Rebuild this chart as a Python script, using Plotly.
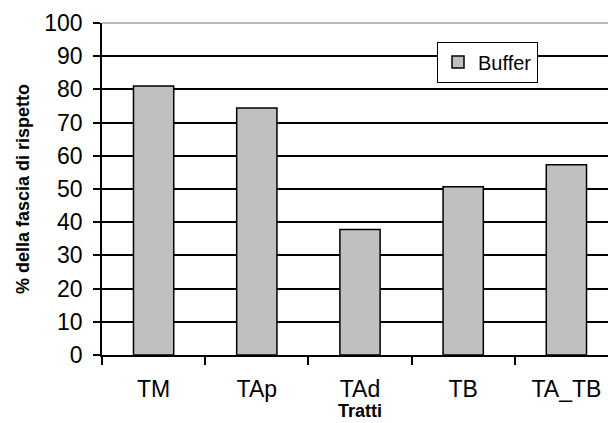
import plotly.graph_objects as go

categories = ["TM", "TAp", "TAd", "TB", "TA_TB"]
buffer_values = [81.0, 74.4, 37.8, 50.7, 57.3]
series_name = "Buffer"
y_title = "% della fascia di rispetto"
x_title = "Tratti"

FONT = "Liberation Sans, Arial, sans-serif"

fig = go.Figure()
fig.add_trace(go.Bar(
    x=categories, y=buffer_values, name=series_name,
    width=0.39,
    marker=dict(color="#c0c0c0", line=dict(color="#000000", width=1.5)),
    showlegend=True,
))

fig.update_layout(
    width=608, height=423,
    margin=dict(l=102, r=0, t=23, b=68, autoexpand=False),
    paper_bgcolor="white", plot_bgcolor="white",
    font=dict(family=FONT, size=23, color="#000000"),
    showlegend=True,
    legend=dict(
        x=(437 - 102) / 506, y=(355 - 41.5) / 332,
        xanchor="left", yanchor="top",
        bgcolor="white", bordercolor="#000000", borderwidth=1,
        font=dict(size=20, family=FONT),
        itemwidth=30,
        tracegroupgap=0,
    ),
    xaxis=dict(
        range=[-0.5, -0.5 + (608 - 102) / 103.2],
        showline=True, linecolor="#000000", linewidth=1.5,
        ticks="outside", tickson="boundaries", ticklen=8, tickcolor="#000000",
        tickwidth=1.5, showgrid=False, zeroline=False,
        ticklabelstandoff=13, automargin=False,
    ),
    yaxis=dict(
        range=[0, 100], dtick=10, tick0=0,
        showline=True, linecolor="#000000", linewidth=1.5,
        ticks="outside", ticklen=7, tickcolor="#000000", tickwidth=1.5,
        showgrid=True, gridcolor="#000000", gridwidth=1.5,
        zeroline=False, automargin=False,
        ticklabelstandoff=6,
        title=dict(text="<b>" + y_title + "</b>", font=dict(size=18, family=FONT), standoff=10),
    ),
    annotations=[dict(
        text="<b>" + x_title + "</b>", xref="x", yref="paper",
        x=2, y=0, yshift=-56, yanchor="middle", showarrow=False,
        font=dict(size=18, family=FONT, color="#000000"),
    )],
    shapes=[dict(type="line", xref="paper", yref="paper", x0=0, x1=1, y0=1, y1=1,
                 line=dict(color="#a0a0a0", width=1.5), layer="above")],
)

fig.write_html(
    "out.html",
    config={"displayModeBar": False},
    post_script="document.body.style.margin='0';document.body.style.overflow='hidden';",
)
